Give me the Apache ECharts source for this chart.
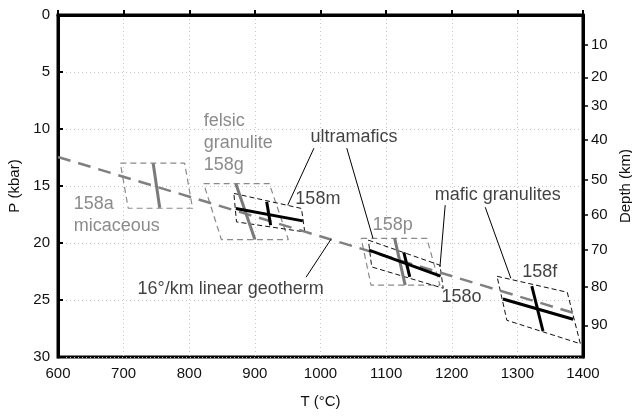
<!DOCTYPE html>
<html><head><meta charset="utf-8">
<script src="https://cdn.jsdelivr.net/npm/echarts@6/dist/echarts.min.js"></script>
<style>html,body{margin:0;padding:0;background:#fff}#c{width:632px;height:416px}</style>
</head><body><div id="c"></div>
<script>
// ---- data ----
const depthTicks = [10, 20, 30, 40, 50, 60, 70, 80, 90];
const depthP = [2.63, 5.47, 7.99, 10.97, 14.43, 17.56, 20.63, 23.85, 27.22];
const geotherm = [[600, 12.45], [1395, 26.3]];
const box158a = [[695, 13.0], [793, 13.0], [805, 16.95], [707, 16.95], [695, 13.0]];
const line158a = [[745, 13.0], [755, 16.9]];
const box158g = [[822, 14.8], [922, 14.8], [951, 19.7], [849, 19.7], [822, 14.8]];
const line158g = [[871, 14.8], [900, 19.7]];
const box158m = [[868, 15.65], [971, 16.97], [976, 19.03], [872, 18.15], [868, 15.65]];
const line158mT = [[871, 16.97], [973, 18.06]];
const line158mP = [[918, 16.39], [924, 18.44]];
const box158p = [[1062, 19.6], [1162, 19.6], [1182, 23.7], [1077, 23.7], [1062, 19.6]];
const line158p = [[1113, 19.6], [1129, 23.7]];
const box158o = [[1073, 19.75], [1182, 21.95], [1187, 23.97], [1078, 22.1], [1073, 19.75]];
const line158oT = [[1074, 20.63], [1183, 22.91]];
const line158oP = [[1127, 20.83], [1136, 22.97]];
const box158f = [[1269, 22.92], [1376, 24.32], [1396, 28.84], [1284, 26.78], [1269, 22.92]];
const line158fT = [[1278, 24.91], [1385, 26.69]];
const line158fP = [[1322, 23.79], [1339, 27.72]];
const leaders = [
  [[990, 11.68], [950, 16.68]],
  [[1040, 11.68], [1080, 19.6]],
  [[1190, 16.68], [1182, 22.1]],
  [[1251, 16.86], [1290, 23.09]],
  [[978, 23.0], [1016, 19.67]]
];
const labelsBlack = [
  {text: 'ultramafics', pos: [1051, 10.68], anchor: 'c'},
  {text: 'mafic granulites', pos: [1270, 15.8], anchor: 'c'},
  {text: '158m', pos: [996, 16.18], anchor: 'c'},
  {text: '158o', pos: [1215, 24.73], anchor: 'c'},
  {text: '158f', pos: [1334, 22.54], anchor: 'c'},
  {text: '16°/km linear geotherm', pos: [863, 24.0], anchor: 'c'}
];
const labelsGray = [
  {text: 'felsic\ngranulite\n158g', pos: [822, 11.24], anchor: 'l'},
  {text: '158a\nmicaceous', pos: [624, 17.56], anchor: 'l'},
  {text: '158p', pos: [1110, 18.44], anchor: 'c'}
];

const FONT = "'Liberation Sans', Arial, sans-serif";
const GRAYBOX = '#8a8a8a', GRAYLINE = '#7a7a7a', GRAYTXT = '#6e6e6e';

function lineSeries(data, color, width, type, z) {
  return {type: 'line', data: data, symbol: 'none', silent: true, z: z || 2,
    lineStyle: {color: color, width: width, type: type || 'solid'}};
}
function labelSeries(list, color) {
  return {type: 'scatter', symbolSize: 0, silent: true, z: 10,
    data: list.map(l => ({value: l.pos, name: l.text,
      label: {show: true, formatter: l.text, position: l.anchor === 'l' ? 'right' : 'inside',
        distance: 0, align: l.anchor === 'l' ? 'left' : 'center', verticalAlign: 'middle',
        color: color, fontSize: 18, fontFamily: FONT, lineHeight: 22}}))};
}

const series = [];
[box158a, box158g, box158p].forEach(b => series.push(lineSeries(b, GRAYBOX, 1.2, [6, 4], 2)));
[box158m, box158o, box158f].forEach(b => series.push(lineSeries(b, '#111', 1, [5, 3], 2)));
series.push(lineSeries(geotherm, '#808080', 2.5, [13, 8], 3));
[line158a, line158g, line158p].forEach(l => series.push(lineSeries(l, GRAYLINE, 3, 'solid', 4)));
[line158mT, line158mP, line158oT, line158oP, line158fT, line158fP].forEach(l => series.push(lineSeries(l, '#000', 3, 'solid', 5)));
leaders.forEach(l => series.push(lineSeries(l, '#000', 1, 'solid', 6)));
series.push(labelSeries(labelsBlack, '#111'));
series.push(labelSeries(labelsGray, GRAYTXT));

const chart = echarts.init(document.getElementById('c'), null, {renderer: 'canvas'});
chart.setOption({
  animation: false,
  backgroundColor: '#fff',
  grid: {left: 58, right: 49, top: 15, bottom: 59, show: true, borderColor: '#000', borderWidth: 3,
    containLabel: false, outerBoundsMode: 'none'},
  xAxis: {type: 'value', min: 600, max: 1400, interval: 100,
    name: 'T (°C)', nameLocation: 'middle', nameGap: 37,
    nameTextStyle: {fontSize: 15, fontFamily: FONT, color: '#111'},
    axisLine: {show: true, lineStyle: {color: '#000', width: 3}},
    axisTick: {show: true, inside: true, length: 5, lineStyle: {color: '#000', width: 2}},
    axisLabel: {fontSize: 15, fontFamily: FONT, color: '#111', margin: 9, formatter: v => String(v)},
    splitLine: {show: true, lineStyle: {color: '#c8c8c8', type: [1, 3], width: 1}}},
  yAxis: [
    {type: 'value', min: 0, max: 30, interval: 5, inverse: true,
      name: 'P (kbar)', nameLocation: 'middle', nameGap: 29, nameRotate: 90,
      nameTextStyle: {fontSize: 15, fontFamily: FONT, color: '#111'},
      axisLine: {show: true, lineStyle: {color: '#000', width: 3}},
      axisTick: {show: true, inside: true, length: 5, lineStyle: {color: '#000', width: 2}},
      axisLabel: {fontSize: 15, fontFamily: FONT, color: '#111', margin: 8},
      splitLine: {show: true, lineStyle: {color: '#c8c8c8', type: [1, 3], width: 1}}},
    {type: 'value', min: 0, max: 30, inverse: true, position: 'right',
      name: 'Depth (km)', nameLocation: 'middle', nameGap: 31, nameRotate: 90,
      nameTextStyle: {fontSize: 15, fontFamily: FONT, color: '#111'},
      axisLine: {show: true, lineStyle: {color: '#000', width: 3}},
      axisTick: {show: true, inside: false, length: 5, customValues: depthP, lineStyle: {color: '#000', width: 1.5}},
      axisLabel: {fontSize: 15, fontFamily: FONT, color: '#111', margin: 8, customValues: depthP,
        formatter: function (v) {
          let best = 0, bd = 1e9;
          depthP.forEach((p, i) => { const d = Math.abs(p - v); if (d < bd) { bd = d; best = i; } });
          return String(depthTicks[best]);
        }},
      splitLine: {show: false}}
  ],
  series: series
});
</script></body></html>
